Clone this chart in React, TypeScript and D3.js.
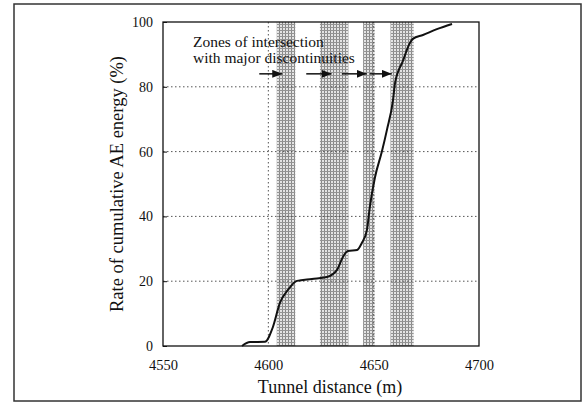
import { useEffect, useRef } from 'react';
import * as d3 from 'd3';

// Cumulative AE energy curve (tunnel distance m, %)
const distance = [
  4587.5, 4591.3, 4598.4, 4602.2, 4605.5, 4609.3, 4613.6, 4620.7, 4627.8, 4632.6,
  4635.4, 4637.8, 4642.1, 4644.4, 4646.8, 4648.2, 4650.6, 4653.9, 4656.3, 4659.2,
  4660.1, 4663.9, 4667.2, 4668.6, 4673.4, 4680.0, 4687.2,
];
const energy = [
  0, 1.2, 1.3, 5.9, 13.3, 17.3, 20.1, 20.7, 21.3, 23.5,
  27.5, 29.3, 29.6, 31.8, 35.8, 43, 52, 60, 66.7, 76,
  81, 88, 93.5, 94.8, 96, 97.8, 99.4,
];

// Zones of intersection with major discontinuities
const zoneStart = [4604, 4624.5, 4645, 4658];
const zoneEnd = [4612.8, 4638, 4650.5, 4669];

// Arrows pointing at the zones
const arrowFrom = [4595.7, 4618, 4634.9, 4648.2];
const arrowTo = [4606.6, 4630, 4646.7, 4658.6];
const arrowLevel = 84;

const noteLines = ['Zones of intersection', 'with major discontinuities'];

const xTicks = [4550, 4600, 4650, 4700];
const yTicks = [0, 20, 40, 60, 80, 100];
const xGrid = [4600, 4650];
const yGrid = [20, 40, 60, 80];

const FONT = '"Liberation Serif", "DejaVu Serif", serif';

export default function App() {
  const svgRef = useRef<SVGSVGElement | null>(null);

  useEffect(() => {
    if (!svgRef.current) return;
    const svg = d3.select(svgRef.current);
    svg.selectAll('*').remove();

    const left = 163;
    const right = 479;
    const top = 22;
    const bottom = 346;

    const x = d3.scaleLinear().domain([4550, 4700]).range([left, right]);
    const y = d3.scaleLinear().domain([0, 100]).range([bottom, top]);

    const defs = svg.append('defs');
    const pat = defs
      .append('pattern')
      .attr('id', 'stipple')
      .attr('width', 3)
      .attr('height', 3)
      .attr('patternUnits', 'userSpaceOnUse');
    pat.append('rect').attr('width', 3).attr('height', 3).attr('fill', '#e4e4e4');
    pat.append('rect').attr('width', 1).attr('height', 3).attr('fill', '#888');
    pat.append('rect').attr('width', 3).attr('height', 1).attr('fill', '#949494');

    defs
      .append('marker')
      .attr('id', 'head')
      .attr('viewBox', '0 0 10 8')
      .attr('refX', 10)
      .attr('refY', 4)
      .attr('markerWidth', 10)
      .attr('markerHeight', 8)
      .attr('markerUnits', 'userSpaceOnUse')
      .attr('orient', 'auto')
      .append('path')
      .attr('d', 'M0,0 L10,4 L0,8 Z')
      .attr('fill', '#111');

    // Outer frame
    svg
      .append('rect')
      .attr('x', 14)
      .attr('y', 4)
      .attr('width', 567)
      .attr('height', 397)
      .attr('fill', 'none')
      .attr('stroke', '#333')
      .attr('stroke-width', 1.5);

    // Shaded zones
    svg
      .append('g')
      .selectAll('rect')
      .data(zoneStart)
      .join('rect')
      .attr('x', (d) => x(d))
      .attr('y', top)
      .attr('width', (d, i) => x(zoneEnd[i]) - x(d))
      .attr('height', bottom - top)
      .attr('fill', 'url(#stipple)');

    // Dotted grid
    const grid = svg.append('g').attr('stroke', '#555').attr('stroke-width', 1).attr('stroke-dasharray', '1.5,2.5');
    grid
      .selectAll('line.h')
      .data(yGrid)
      .join('line')
      .attr('class', 'h')
      .attr('x1', left)
      .attr('x2', right)
      .attr('y1', (d) => y(d))
      .attr('y2', (d) => y(d));
    grid
      .selectAll('line.v')
      .data(xGrid)
      .join('line')
      .attr('class', 'v')
      .attr('x1', (d) => x(d))
      .attr('x2', (d) => x(d))
      .attr('y1', top)
      .attr('y2', bottom);

    // Plot box
    svg
      .append('rect')
      .attr('x', left)
      .attr('y', top)
      .attr('width', right - left)
      .attr('height', bottom - top)
      .attr('fill', 'none')
      .attr('stroke', '#111')
      .attr('stroke-width', 1.3);

    // Axes
    svg
      .append('g')
      .attr('transform', `translate(${left},0)`)
      .call(d3.axisLeft(y).tickValues(yTicks).tickSize(-4).tickPadding(10).tickFormat(d3.format('d')))
      .call((g) => g.select('.domain').remove())
      .call((g) =>
        g.selectAll('text').attr('font-family', FONT).attr('font-size', 14).attr('fill', '#111')
      )
      .call((g) => g.selectAll('line').attr('stroke', '#111'));

    svg
      .append('g')
      .attr('transform', `translate(0,${bottom})`)
      .call(d3.axisBottom(x).tickValues(xTicks).tickSize(0).tickPadding(14).tickFormat(d3.format('d')))
      .call((g) => g.select('.domain').remove())
      .call((g) =>
        g.selectAll('text').attr('font-family', FONT).attr('font-size', 14.5).attr('fill', '#111')
      );

    // Curve
    const pts = distance.map((d, i) => [d, energy[i]] as [number, number]);
    svg
      .append('path')
      .datum(pts)
      .attr('fill', 'none')
      .attr('stroke', '#111')
      .attr('stroke-width', 2)
      .attr(
        'd',
        d3
          .line<[number, number]>()
          .x((d) => x(d[0]))
          .y((d) => y(d[1]))
          .curve(d3.curveMonotoneX)
      );

    // Arrows
    svg
      .append('g')
      .selectAll('line')
      .data(arrowFrom)
      .join('line')
      .attr('x1', (d) => x(d))
      .attr('x2', (d, i) => x(arrowTo[i]))
      .attr('y1', y(arrowLevel))
      .attr('y2', y(arrowLevel))
      .attr('stroke', '#111')
      .attr('stroke-width', 1.5)
      .attr('marker-end', 'url(#head)');

    // Annotation
    svg
      .append('g')
      .selectAll('text')
      .data(noteLines)
      .join('text')
      .attr('x', 193)
      .attr('y', (d, i) => 47 + i * 16)
      .attr('font-family', FONT)
      .attr('font-size', 15.5)
      .attr('fill', '#111')
      .text((d) => d);

    // Axis labels
    svg
      .append('text')
      .attr('x', 330)
      .attr('y', 393)
      .attr('text-anchor', 'middle')
      .attr('font-family', FONT)
      .attr('font-size', 18)
      .attr('fill', '#111')
      .text('Tunnel distance (m)');

    svg
      .append('text')
      .attr('transform', 'rotate(-90)')
      .attr('x', -184)
      .attr('y', 123)
      .attr('text-anchor', 'middle')
      .attr('font-family', FONT)
      .attr('font-size', 18.5)
      .attr('fill', '#111')
      .text('Rate of cumulative AE energy (%)');
  }, []);

  return (
    <svg
      ref={svgRef}
      width={585}
      height={403}
      style={{ position: 'absolute', left: 0, top: 0, background: '#fff' }}
    />
  );
}
